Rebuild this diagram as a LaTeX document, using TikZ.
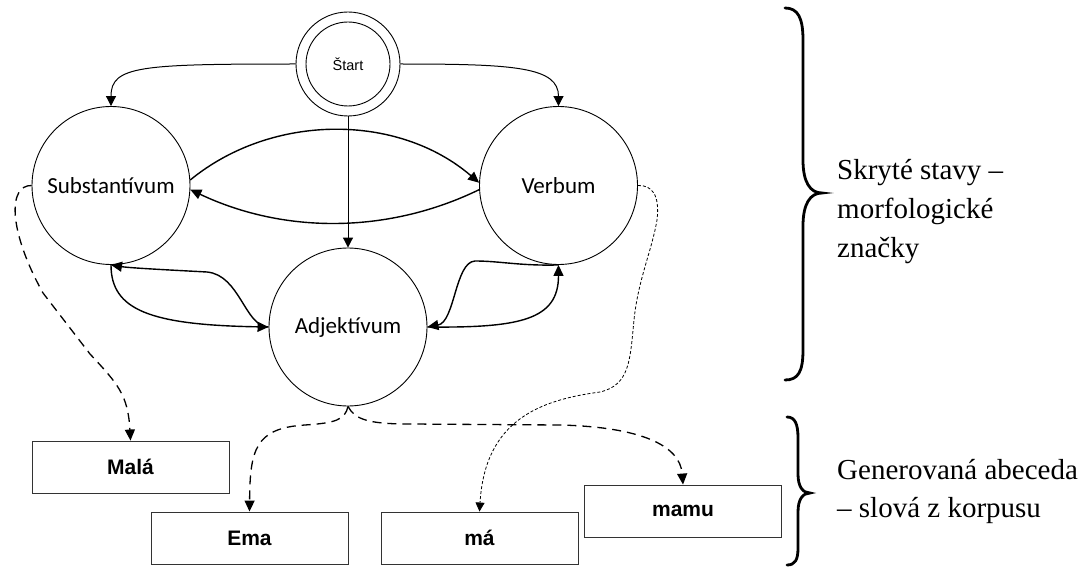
\documentclass[tikz,border=0pt]{standalone}
\usepackage{fontspec}
\setmainfont{Liberation Serif}
\newfontfamily\calibrifont{Carlito}
\newfontfamily\arialfont{Liberation Sans}
\usetikzlibrary{arrows.meta}

\begin{document}
\begin{tikzpicture}[x=1pt,y=-1pt,
  state/.style={circle,draw,line width=0.9pt,minimum size=158pt,inner sep=0pt,
    font=\calibrifont\fontsize{23}{27}\selectfont},
  startring/.style={circle,draw,line width=0.9pt,inner sep=0pt},
  word/.style={rectangle,draw=black!80,line width=0.9pt,minimum width=197pt,
    minimum height=52pt,inner sep=0pt,font=\arialfont\bfseries\fontsize{21}{25}\selectfont},
  trans/.style={-{Triangle[length=11pt,width=10pt]},line width=1.4pt},
  startarr/.style={-{Triangle[length=10pt,width=10pt]},line width=1pt},
  emit/.style={-{Triangle[length=11pt,width=10pt]},line width=1.3pt,dash pattern=on 9pt off 6pt},
  emitdot/.style={-{Triangle[length=9pt,width=9pt]},line width=0.8pt,dash pattern=on 3pt off 2pt},
  brace/.style={line width=2.8pt,line cap=round},
  note/.style={anchor=base west,inner sep=0pt,font=\fontsize{29}{35}\selectfont}
]
\useasboundingbox (0,0) rectangle (1084,567);

% hidden states
\node[startring,minimum size=104pt] (start) at (348,64) {};
\node[startring,minimum size=84pt,font=\arialfont\fontsize{14.5}{17}\selectfont] (startin) at (348,64) {Štart};
\node[state] (subst) at (111,185.5) {Substantívum};
\node[state] (verbum) at (558.5,185.5) {Verbum};
\node[state] (adj) at (348,327) {Adjektívum};

% observed words
\node[word] (mala) at (130.5,467) {Malá};
\node[word] (ema) at (249.5,538) {Ema};
\node[word] (ma) at (479.5,538) {má};
\node[word] (mamu) at (683,511) {mamu};

% initial transitions
\draw[startarr] (start.west) .. controls (140,64) and (111,66) .. (subst.north);
\draw[startarr] (start.east) .. controls (515,64) and (558.5,67) .. (verbum.north);
\draw[startarr] (start.south) -- (adj.north);

% Substantivum <-> Verbum
\draw[trans] (subst.4) .. controls (272,113) and (398,113) .. (verbum.178);
\draw[trans] (verbum.183) .. controls (388,234) and (284,234) .. (subst.357);

% Substantivum <-> Adjektivum
\draw[trans] (adj.west) .. controls (245,327) and (240,275) .. (207,272)
  .. controls (170,270) and (130,268) .. (subst.south);
\draw[trans] (subst.south) .. controls (111,310) and (150,325) .. (adj.west);

% Verbum <-> Adjektivum
\draw[trans] (verbum.south) .. controls (520,266) and (500,261) .. (475,261)
  .. controls (455,262) and (455,322) .. (adj.east);
\draw[trans] (adj.east) .. controls (520,328) and (558.5,320) .. (verbum.south);

% emissions
\draw[emit] (subst.west) .. controls (8,185) and (8,230) .. (43,293)
  -- (90,354) .. controls (118,384) and (128,395) .. (mala.north);
\draw[emit] (adj.south) .. controls (345,420) and (335,423) .. (305,425)
  .. controls (255,428) and (250,450) .. (ema.north);
\draw[emit] (adj.south) .. controls (355,420) and (370,424) .. (410,424)
  -- (560,425) .. controls (640,427) and (680,445) .. (mamu.north);
\draw[emitdot] (verbum.east) .. controls (652,185) and (660,195) .. (657,220)
  .. controls (652,250) and (638,280) .. (634,320)
  .. controls (630,360) and (630,385) .. (600,392)
  .. controls (540,400) and (485,420) .. (ma.north);

% braces
\draw[brace] (785,8) .. controls (798,8) and (803,18) .. (803,40) -- (803,160)
  .. controls (803,182) and (810,193) .. (822,193)
  .. controls (810,193) and (803,204) .. (803,226) -- (803,350)
  .. controls (803,372) and (798,380) .. (785,380);
\draw[brace] (787,417) .. controls (795,417) and (798,424) .. (798,438) -- (798,474)
  .. controls (798,487) and (803,493) .. (810,493)
  .. controls (803,493) and (798,499) .. (798,512) -- (798,548)
  .. controls (798,560) and (795,565) .. (787,565);

% annotations
\node[note] (n1) at (837,179) {Skryté stavy –};
\node[note] (n2) at (837,218) {morfologické};
\node[note] (n3) at (837,257) {značky};
\node[note] (n4) at (837,479) {Generovaná abeceda};
\node[note] (n5) at (837,517) {– slová z korpusu};
\end{tikzpicture}
\end{document}
